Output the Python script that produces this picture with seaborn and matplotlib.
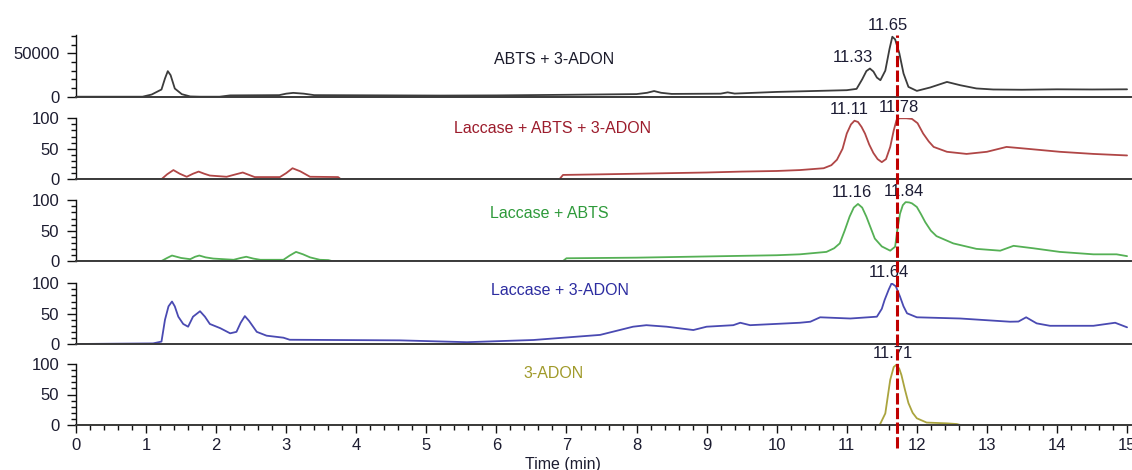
import matplotlib
matplotlib.use("Agg")
import matplotlib.pyplot as plt
import seaborn as sns
from matplotlib.lines import Line2D
from matplotlib.ticker import MultipleLocator, FixedLocator
from matplotlib.transforms import blended_transform_factory

# ---- chromatogram traces (retention time in min, detector response) ----
abts_adon_t = [0, 0.95, 1.08, 1.22, 1.27, 1.31, 1.35, 1.41, 1.51, 1.63, 1.77, 2.05, 2.2,
               2.9, 3.0, 3.1, 3.25, 3.4, 4.5, 5.2, 6.0, 7.0, 8.0, 8.15, 8.25, 8.35, 8.5,
               9.2, 9.3, 9.4, 10.0, 10.5, 11.0, 11.14, 11.22, 11.28, 11.33, 11.38, 11.43,
               11.48, 11.55, 11.61, 11.65, 11.69, 11.75, 11.81, 11.88, 12.0, 12.19, 12.43,
               12.62, 12.85, 13.09, 13.5, 14.0, 14.5, 15.0]
abts_adon_v = [0, 0, 2500, 8300, 21000, 29400, 24800, 9400, 2900, 300, 0, 0, 1500,
               1800, 3500, 4400, 3500, 1800, 1500, 1300, 1500, 2200, 3000, 4500, 6500, 4500, 3200,
               3500, 5000, 3600, 5500, 6500, 7500, 9000, 20000, 29500, 32400, 29000, 22000,
               19000, 30000, 55000, 69000, 66000, 50000, 26700, 11300, 6700, 10600, 17000,
               13200, 9500, 8300, 8000, 8500, 8300, 8500]

lac_abts_adon_t = [0, 1.22, 1.3, 1.39, 1.48, 1.58, 1.67, 1.75, 1.83, 1.91, 2.15, 2.28, 2.38,
                   2.47, 2.55, 2.91, 3.0, 3.09, 3.2, 3.34, 3.74, 3.78, 6.9, 6.95, 7.5, 8.0,
                   8.5, 9.0, 9.5, 10.0, 10.33, 10.67, 10.78, 10.86, 10.94, 11.0, 11.06, 11.11,
                   11.16, 11.21, 11.26, 11.32, 11.38, 11.44, 11.5, 11.56, 11.62, 11.67, 11.71,
                   11.75, 11.78, 11.85, 11.93, 12.01, 12.09, 12.17, 12.24, 12.43, 12.71, 13.0,
                   13.28, 13.57, 14.04, 14.52, 15.0]
lac_abts_adon_v = [0, 0, 8, 15, 9, 4, 9, 12.5, 9, 6, 4, 8, 11,
                   7, 3.5, 3.5, 10, 18, 13, 4, 3.5, 0, 0, 7, 8, 9,
                   10, 11, 12.5, 13.5, 15, 18, 23, 32, 50, 75, 90, 96,
                   94, 86, 75, 57, 43, 33, 28, 33, 53, 80, 97,
                   100, 100, 100, 99, 92, 75, 62, 53, 45, 41.5, 45,
                   53, 50, 45, 41.5, 39]

lac_abts_t = [0, 1.22, 1.3, 1.37, 1.5, 1.63, 1.7, 1.76, 1.85, 1.96, 2.25, 2.35, 2.43, 2.53,
              2.63, 2.96, 3.05, 3.14, 3.24, 3.34, 3.48, 3.6, 3.65, 6.95, 7.0, 7.5, 8.0, 8.5,
              9.0, 9.5, 10.0, 10.33, 10.71, 10.82, 10.9, 10.97, 11.04, 11.1, 11.16, 11.22,
              11.28, 11.34, 11.4, 11.5, 11.62, 11.69, 11.72, 11.76, 11.8, 11.84, 11.89, 11.93,
              12.0, 12.06, 12.12, 12.2, 12.28, 12.52, 12.85, 13.19, 13.38, 13.66, 14.04,
              14.52, 14.85, 15.0]
lac_abts_v = [0, 0, 5, 9, 5, 3, 7, 9, 6, 4, 2, 5, 7, 4,
              2, 2, 9, 15, 11, 6, 2, 1.5, 0, 0, 4.5, 5, 5.5, 6.5,
              7.5, 8.5, 9.5, 11, 15, 21, 29, 50, 73, 88, 94, 88,
              73, 55, 37, 24, 17, 23.5, 50, 78, 92, 97, 96.5, 95,
              89, 77, 64, 50, 41, 29, 20, 17, 25, 21, 15,
              11, 11, 8]

lac_adon_t = [0, 1.1, 1.22, 1.27, 1.32, 1.37, 1.41, 1.46, 1.53, 1.6, 1.67, 1.77, 1.84, 1.91,
              2.06, 2.2, 2.29, 2.35, 2.41, 2.47, 2.58, 2.72, 2.96, 3.05, 3.67, 4.62, 5.58,
              6.53, 7.48, 7.95, 8.14, 8.43, 8.81, 9.0, 9.38, 9.48, 9.62, 10.33, 10.48, 10.62,
              11.05, 11.43, 11.5, 11.54, 11.6, 11.64, 11.7, 11.76, 11.81, 11.86, 12.0, 12.62,
              13.33, 13.45, 13.56, 13.71, 13.9, 14.52, 14.83, 15.0]
lac_adon_v = [0, 1, 4, 40, 62, 70, 62, 45, 33, 28.5, 45, 54, 45, 33,
              26, 17.6, 20, 35, 46, 38, 20, 13.7, 10.4, 7, 6.6, 6, 3,
              6.6, 15, 28.5, 31, 28.5, 23, 28.5, 31, 35, 31, 35, 36.7, 44,
              42, 45, 58, 72.5, 90, 100, 95, 78, 62, 50.6, 44, 42,
              36.7, 37, 44, 34, 30, 30, 35, 27.5]

adon_t = [0, 11.47, 11.55, 11.62, 11.67, 11.71, 11.75, 11.78, 11.83, 11.88, 11.94, 12.0,
          12.14, 12.43, 12.57, 12.62, 15.0]
adon_v = [0, 0, 19, 74, 95, 99, 92, 82, 58, 36, 20, 11,
          4, 2.7, 1.6, 0, 0]

panel_names = ["ABTS + 3-ADON", "Laccase + ABTS + 3-ADON", "Laccase + ABTS",
               "Laccase + 3-ADON", "3-ADON"]
panel_times = [abts_adon_t, lac_abts_adon_t, lac_abts_t, lac_adon_t, adon_t]
panel_values = [abts_adon_v, lac_abts_adon_v, lac_abts_v, lac_adon_v, adon_v]
peak_labels = [[11.65, 11.33], [11.11, 11.78], [11.16, 11.84], [11.64], [11.71]]
reference_time = 11.71
x_ticks = list(range(0, 16))

# ---- styling ----
line_colors = ["#3c3c3c", "#b04646", "#55b055", "#4a4ab2", "#aaa43e"]
name_colors = ["#1a1a2a", "#9c1c2c", "#2e9a3a", "#2c2ca0", "#a09a2a"]
label_dx = {11.65: -4, 11.33: -17, 11.11: -5, 11.78: -3, 11.16: -6, 11.84: -2,
            11.64: -3, 11.71: -4}
name_pos = [(6.82, 0.595), (6.80, 0.835), (6.76, 0.78), (6.90, 0.885), (6.81, 0.85)]
ylims = [71000, 100, 100, 100, 100]

sns.set_theme(style="ticks")
plt.rcParams["font.family"] = ["Liberation Sans", "DejaVu Sans"]
plt.rcParams["font.size"] = 11.5

W, H = 1132, 470
fig = plt.figure(figsize=(W / 100, H / 100), dpi=100)
fig.patch.set_facecolor("white")
left_px, right_px = 76, 1130.5
px_per_min = 70.07
bands = [(35, 96.7), (118.3, 179.2), (200.3, 261), (283.3, 344), (364, 425)]

axes = []
for i, (top, bot) in enumerate(bands):
    ax = fig.add_axes([left_px / W, 1 - bot / H, (right_px - left_px) / W, (bot - top) / H])
    ax.set_facecolor("none")
    sns.lineplot(x=panel_times[i], y=panel_values[i], ax=ax, color=line_colors[i],
                 lw=1.3, estimator=None, sort=False)
    ax.set_xlim(0, (right_px - left_px) / px_per_min)
    ax.set_ylim(0, ylims[i])
    ax.set_xlabel("")
    ax.set_ylabel("")
    for s in ("top", "right"):
        ax.spines[s].set_visible(False)
    ax.spines["bottom"].set_color("#3a3a3a")
    ax.spines["bottom"].set_linewidth(1.4)
    ax.spines["left"].set_color("#111111")
    ax.spines["left"].set_linewidth(1.0)
    if i == 0:
        ax.yaxis.set_major_locator(FixedLocator([0, 50000]))
        ax.yaxis.set_minor_locator(MultipleLocator(10000))
    else:
        ax.yaxis.set_major_locator(FixedLocator([0, 50, 100]))
        ax.yaxis.set_minor_locator(MultipleLocator(10))
    ax.tick_params(axis="y", which="major", direction="out", length=6.5, width=1.0,
                   pad=5.5, labelsize=12, colors="#111111", labelcolor="#1c1c30")
    ax.tick_params(axis="y", which="minor", direction="out", length=3.3, width=1.0,
                   colors="#111111")
    if i < 4:
        ax.tick_params(axis="x", which="both", bottom=False, labelbottom=False)
    else:
        ax.set_xticks(x_ticks)
        ax.xaxis.set_minor_locator(MultipleLocator(0.2))
        ax.tick_params(axis="x", which="major", direction="out", length=5.8, width=1.0,
                       pad=3.5, labelsize=12, colors="#111111", labelcolor="#1c1c30")
        ax.tick_params(axis="x", which="minor", direction="out", length=3.6, width=1.0,
                       colors="#111111")
    # sample name
    nx, ny = name_pos[i]
    ax.text(nx, ny, panel_names[i], transform=blended_transform_factory(ax.transData, ax.transAxes),
            ha="center", va="center", fontsize=11.5, color=name_colors[i])
    # retention-time labels above peaks
    for rt in peak_labels[i]:
        v = panel_values[i][panel_times[i].index(rt)]
        ax.annotate(f"{rt:.2f}", xy=(rt, v), xytext=(label_dx[rt], 11),
                    textcoords="offset pixels", ha="center", va="center",
                    fontsize=12, color="#1c1c34", annotation_clip=False)
    axes.append(ax)

bottom_ax = axes[-1]
bottom_ax.set_xlabel("Time (min)", fontsize=11.5, color="#1c1c30")
bottom_ax.xaxis.set_label_coords((562.7 - left_px) / (right_px - left_px), (425 - 457) / 61)
bottom_ax.xaxis.label.set_va("top")

# dashed marker through all panels at the 3-ADON retention time
marker = Line2D([reference_time, reference_time], [1 - 448 / H, 1 - 35 / H],
                transform=blended_transform_factory(bottom_ax.transData, fig.transFigure),
                color="#c00000", lw=2.2, ls=(0, (3.7, 1.1)), zorder=10)
fig.add_artist(marker)

fig.savefig("out.png", dpi=100, facecolor="white")
